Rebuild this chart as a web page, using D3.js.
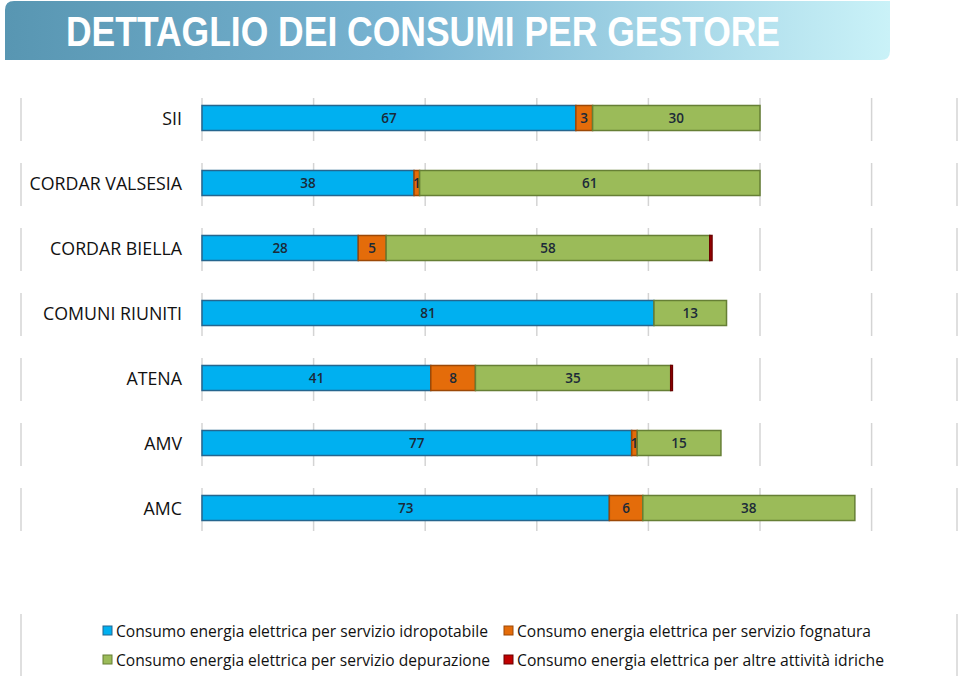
<!DOCTYPE html>
<html><head><meta charset="utf-8">
<script src="https://cdn.jsdelivr.net/npm/d3@7"></script>
<style>html,body{margin:0;padding:0;background:#fff;}svg{display:block;}</style>
</head><body>
<svg id="chart" width="960" height="676"></svg>
<script>
const title = "DETTAGLIO DEI CONSUMI PER GESTORE";
const categories = ["SII","CORDAR VALSESIA","CORDAR BIELLA","COMUNI RIUNITI","ATENA","AMV","AMC"];
const seriesNames = [
  "Consumo energia elettrica per servizio idropotabile",
  "Consumo energia elettrica per servizio fognatura",
  "Consumo energia elettrica per servizio depurazione",
  "Consumo energia elettrica per altre attività idriche"
];
const idropotabile = [67, 38, 28, 81, 41, 77, 73];
const fognatura    = [3, 1, 5, 0, 8, 1, 6];
const depurazione  = [30, 61, 58, 13, 35, 15, 38];
const altre        = [0, 0, 0.4, 0, 0.3, 0, 0];
const showLabel    = [true, true, true, false];
const xTicks = [0, 20, 40, 60, 80, 100, 120];
const colors  = ["#00b0f0", "#e46c0a", "#9bbb59", "#c00000"];
const strokes = ["#25668f", "#9c4806", "#667f35", "#6a0000"];

const svg = d3.select("#chart");
const defs = svg.append("defs");
const grad = defs.append("linearGradient").attr("id","bannerGrad").attr("x1","0").attr("x2","1").attr("y1","0").attr("y2","0");
grad.append("stop").attr("offset","0").attr("stop-color","#5896b2");
grad.append("stop").attr("offset","0.45").attr("stop-color","#78b4d2");
grad.append("stop").attr("offset","1").attr("stop-color","#caf2f8");

// banner
const bx0=5, bx1=890, by0=1, by1=60, r=9;
svg.append("path")
  .attr("d", `M${bx0},${by0+r} Q${bx0},${by0} ${bx0+r},${by0} L${bx1},${by0} L${bx1},${by1-r} Q${bx1},${by1} ${bx1-r},${by1} L${bx0},${by1} Z`)
  .attr("fill","url(#bannerGrad)");
svg.append("text").attr("x",66).attr("y",46)
  .attr("font-family","Liberation Sans, Arial, sans-serif").attr("font-weight","bold")
  .attr("font-size",42).attr("fill","#ffffff")
  .attr("textLength",714).attr("lengthAdjust","spacingAndGlyphs")
  .text(title);

const x = d3.scaleLinear().domain([0,120]).range([202, 871.6]);
const y = d3.scaleBand().domain(categories).range([85.5, 540.5]).paddingInner(0.615).paddingOuter(0.3075);

const rows = categories.map((c,i)=>({cat:c, vals:[idropotabile[i], fognatura[i], depurazione[i], altre[i]]}));

// gridline segments per row
const gridG = svg.append("g");
rows.forEach(rw=>{
  const cy = y(rw.cat) + y.bandwidth()/2;
  const xs = xTicks.map(t=>x(t)).concat([21, 957]);
  xs.forEach(gx=>{
    gridG.append("line").attr("x1",gx).attr("x2",gx).attr("y1",cy-20).attr("y2",cy+23)
      .attr("stroke","#d4d4d4").attr("stroke-width",1.5);
  });
});
// legend frame segments
[21, 957].forEach(gx=>{
  gridG.append("line").attr("x1",gx).attr("x2",gx).attr("y1",614).attr("y2",676)
    .attr("stroke","#d4d4d4").attr("stroke-width",1.5);
});

// bars
const barG = svg.append("g");
rows.forEach(rw=>{
  let acc = 0;
  rw.vals.forEach((v,k)=>{
    if (v>0){
      barG.append("rect")
        .attr("x", x(acc)).attr("y", y(rw.cat))
        .attr("width", x(acc+v)-x(acc)).attr("height", y.bandwidth())
        .attr("fill", colors[k]).attr("stroke", strokes[k]).attr("stroke-width",1.5);
      if (showLabel[k] && v>=1){
        barG.append("text")
          .attr("x", x(acc+v/2)).attr("y", y(rw.cat)+y.bandwidth()/2+5)
          .attr("text-anchor","middle")
          .attr("font-family","Open Sans, sans-serif").attr("font-size",13.5)
          .attr("font-weight",600)
          .attr("fill","#1b2a38").text(v);
      }
    }
    acc += v;
  });
});

// category labels
svg.append("g").selectAll("text").data(categories).join("text")
  .attr("x",182).attr("y",d=>y(d)+y.bandwidth()/2+6.5)
  .attr("text-anchor","end")
  .attr("font-family","Open Sans, sans-serif").attr("font-size",17.8)
  .attr("fill","#111").text(d=>d);

// legend
const legPos = [[103,631],[504,631],[103,660],[504,660]];
const legLen = [372, 354, 374, 367];
const lg = svg.append("g");
seriesNames.forEach((n,k)=>{
  const [lx,ly] = legPos[k];
  lg.append("rect").attr("x",lx).attr("y",ly-5).attr("width",9).attr("height",9)
    .attr("fill",colors[k]).attr("stroke",strokes[k]).attr("stroke-width",1);
  lg.append("text").attr("x",lx+13).attr("y",ly+5.5)
    .attr("font-family","Open Sans, sans-serif").attr("font-size",16)
    .attr("fill","#111")
    .attr("textLength",legLen[k]).attr("lengthAdjust","spacingAndGlyphs")
    .text(n);
});
</script>
</body></html>
